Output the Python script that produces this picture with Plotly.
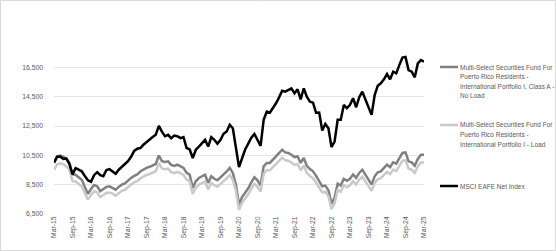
import plotly.graph_objects as go
import pandas as pd

months = pd.date_range("2015-03-01", "2025-03-01", freq="MS").strftime("%b-%y").tolist()
tick_labels = months[::6]

class_a_no_load = [
    10000, 10400, 10480, 10420, 10250, 10000, 9200, 9180, 9000, 8840,
    8350, 7870, 8200, 8480, 8390, 8050, 8200, 8350, 8390, 8300,
    8160, 8350, 8500, 8580, 8800, 8960, 9100, 9200, 9400, 9550,
    9640, 9720, 9830, 9910, 10490, 10100, 10050, 10090, 9850, 9780,
    9860, 9750, 9640, 9300, 9180, 8280, 8730, 8960, 9050, 9180,
    8620, 9070, 8900, 8800, 9000, 9180, 9400, 9640, 9300, 8500,
    7150, 7650, 7950, 8250, 8650, 9000, 8800, 8440, 9750, 9980,
    9980, 10200, 10420, 10700, 10880, 10700, 10660, 10540, 10380, 10420,
    9980, 10320, 9790, 9560, 9410, 9100, 8730, 8390, 8440, 8120,
    7210, 7600, 8570, 8440, 8900, 8760, 8900, 9200, 8960, 9300,
    9520, 9180, 8850, 8500, 9070, 9340, 9410, 9640, 9860, 9700,
    10020, 9930, 10320, 10660, 10700, 10090, 10020, 9790, 10250, 10540,
    10540,
]

load = [
    9500, 9880, 9960, 9900, 9740, 9500, 8740, 8720, 8550, 8400,
    7930, 7480, 7790, 8060, 7970, 7650, 7790, 7930, 7970, 7890,
    7750, 7930, 8080, 8150, 8360, 8510, 8650, 8740, 8930, 9070,
    9160, 9230, 9340, 9410, 9970, 9600, 9550, 9590, 9360, 9290,
    9370, 9260, 9160, 8840, 8720, 7870, 8290, 8510, 8600, 8720,
    8190, 8620, 8460, 8360, 8550, 8720, 8930, 9160, 8840, 8080,
    6790, 7270, 7550, 7840, 8220, 8550, 8360, 8020, 9260, 9480,
    9480, 9690, 9900, 10170, 10340, 10170, 10130, 10010, 9860, 9900,
    9480, 9800, 9300, 9080, 8940, 8650, 8290, 7970, 8020, 7710,
    6850, 7220, 8140, 8020, 8460, 8320, 8460, 8740, 8510, 8840,
    9040, 8720, 8410, 8080, 8620, 8870, 8940, 9160, 9370, 9220,
    9520, 9430, 9800, 10130, 10170, 9590, 9520, 9300, 9740, 10010,
    10010,
]

msci_eafe = [
    10000, 10400, 10420, 10250, 10290, 9900, 9200, 9620, 9520, 9410,
    9090, 8800, 8700, 9150, 9350, 9150, 9080, 9500, 9560, 9420,
    9250, 9520, 9700, 9860, 10100, 10400, 10800, 10950, 11000, 11220,
    11420, 11600, 11750, 11900, 12510, 12120, 11800, 11900, 11670, 11850,
    11800, 11670, 11740, 11000, 10900, 10320, 10880, 11100, 11300, 11560,
    11100, 11740, 11560, 11290, 11560, 11970, 12130, 12580, 12350, 11060,
    9700, 10300, 10900, 11300, 11700, 11960, 11560, 11150, 12920, 13480,
    13410, 13710, 14050, 14450, 14900, 14840, 14950, 15070, 14730, 15000,
    14320, 15070, 14500, 14160, 14090, 13400, 13410, 12190, 12640, 12350,
    11060, 11440, 12920, 12920, 13940, 13710, 13940, 14390, 13780, 14460,
    14840, 14270, 13760, 13260, 14610, 15250, 15410, 15680, 16040, 15680,
    16200, 16090, 16650, 17170, 17210, 16310, 16200, 15820, 16770, 16990,
    16880,
]

y_ticks = [6500, 8500, 10500, 12500, 14500, 16500]

names = [
    ["Multi-Select Securities Fund For", "Puerto Rico Residents -",
     "International Portfolio I, Class A -", "No Load"],
    ["Multi-Select Securities Fund For", "Puerto Rico Residents -",
     "International Portfolio I - Load"],
    ["MSCI EAFE Net Index"],
]
series = [class_a_no_load, load, msci_eafe]
colors = ["#808080", "#c9c9c9", "#000000"]

W, H = 556, 251
L, R, T, B = 54, 132, 38, 37
pw, ph = W - L - R, H - T - B


def px_x(p):
    return (p - L) / pw


def px_y(p):
    return (H - B - p) / ph


fig = go.Figure()
for vals, nm, col in zip(series, names, colors):
    fig.add_trace(go.Scatter(
        x=months, y=vals, mode="lines", name=" ".join(nm),
        line=dict(color=col, width=2.5), showlegend=False,
    ))

annotations = []
shapes = []
legend_tops = [67, 125, 186]
for nm, col, top in zip(names, colors, legend_tops):
    shapes.append(dict(type="line", xref="paper", yref="paper",
                       x0=px_x(440), x1=px_x(458), y0=px_y(top), y1=px_y(top),
                       line=dict(color=col, width=2.5)))
    for k, line in enumerate(nm):
        annotations.append(dict(
            text=line, xref="paper", yref="paper",
            x=px_x(458), y=px_y(top + k * 9.5), xanchor="left", yanchor="middle",
            showarrow=False, font=dict(size=6.5, color="#595959",
                                       family="Liberation Sans, Arial, sans-serif"),
        ))

shapes.append(dict(type="rect", xref="paper", yref="paper",
                   x0=px_x(0.5), x1=px_x(W - 0.5), y0=px_y(0.5), y1=px_y(H - 0.5),
                   line=dict(color="#d9d9d9", width=1), layer="below"))

fig.update_layout(
    width=W, height=H,
    margin=dict(l=L, r=R, t=T, b=B),
    paper_bgcolor="white", plot_bgcolor="white",
    font=dict(family="Liberation Sans, Arial, sans-serif", size=6.8, color="#595959"),
    xaxis=dict(
        type="category", range=[0, len(months) - 1],
        tickmode="array", tickvals=tick_labels, ticktext=tick_labels,
        tickangle=-90, showgrid=False, zeroline=False, showline=False,
        ticks="", tickfont=dict(size=6.8, color="#595959"),
    ),
    yaxis=dict(
        range=[6500, 18500], tickmode="array", tickvals=y_ticks,
        tickformat=",", showgrid=True, gridcolor="#e6e6e6", gridwidth=1,
        zeroline=False, showline=False, ticks="", ticklabelstandoff=10,
        tickfont=dict(size=6.8, color="#595959"),
    ),
    annotations=annotations,
    shapes=shapes,
)

fig.write_html("out.html")
